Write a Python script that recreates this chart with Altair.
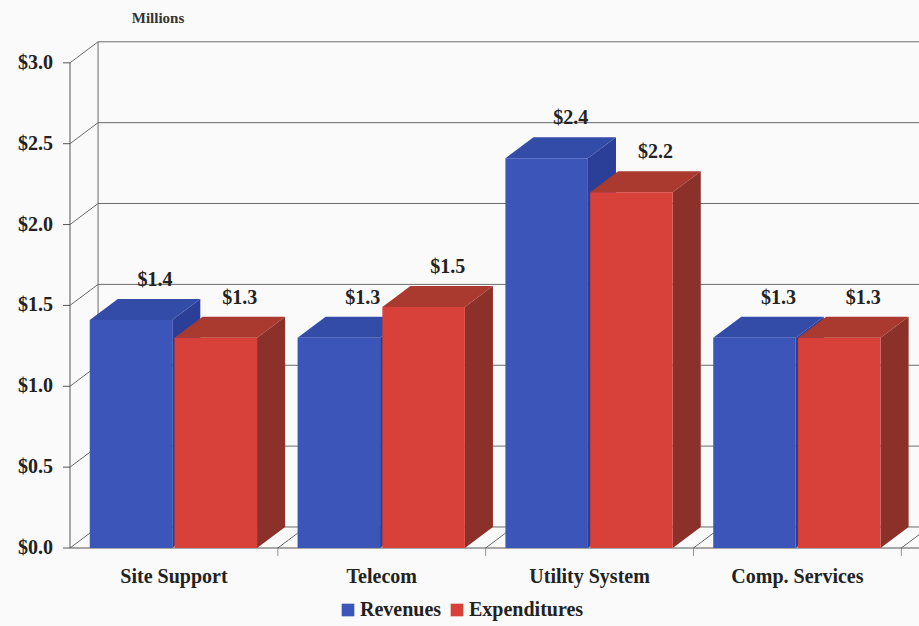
import altair as alt
import pandas as pd

categories = ["Site Support", "Telecom", "Utility System", "Comp. Services"]
revenues = [1.41, 1.30, 2.41, 1.30]
expenditures = [1.30, 1.49, 2.20, 1.30]
series_names = ["Revenues", "Expenditures"]
y_ticks = [0.0, 0.5, 1.0, 1.5, 2.0, 2.5, 3.0]

# ---- style / geometry constants ----
FRONT = ["#3b55b8", "#d8413a"]
TOP = ["#334ca8", "#aa3a30"]
SIDE = ["#2b3f98", "#8c302a"]
DX, DY = 0.135, 0.13          # depth offset in data units
BAR_LEFT = [0.095, 0.503]
BAR_W = 0.397
X_MAX = 4.085
Y_MAX = 3.135
FONT = "Liberation Serif"
LINE = "#6a6a6a"
FS = 20

front_rows, side_rows, top_rows = [], [], []
for i, cat in enumerate(categories):
    for s, vals in enumerate([revenues, expenditures]):
        v = vals[i]
        x0 = i + BAR_LEFT[s]
        x1 = x0 + BAR_W
        bid = f"{i}-{s}"
        name = series_names[s]
        front_rows.append(dict(bid=bid, series=name, x0=x0, x1=x1, v=v,
                               lab=f"${v:.1f}", cx=(x0 + x1) / 2))
        side_rows.append(dict(bid=bid, series=name, x=x1, lo=0.0, hi=v))
        side_rows.append(dict(bid=bid, series=name, x=x1 + DX, lo=DY, hi=v + DY))
        top_rows.append(dict(bid=bid, series=name, y=v, a=x0, b=x1))
        top_rows.append(dict(bid=bid, series=name, y=v + DY, a=x0 + DX, b=x1 + DX))

front_df = pd.DataFrame(front_rows)
side_df = pd.DataFrame(side_rows)
top_df = pd.DataFrame(top_rows)

grid_df = pd.DataFrame({"v": y_ticks})
grid_df["vb"] = grid_df["v"] + DY
grid_df["x0"] = 0.0
grid_df["xd"] = DX
grid_df["xm"] = X_MAX
grid_df["lab"] = [f"${v:.1f}" for v in y_ticks]

floor_df = pd.DataFrame({"k": list(range(1, len(categories) + 1))})
floor_df["kd"] = floor_df["k"] + DX
floor_df["y0"] = 0.0
floor_df["yd"] = DY

cat_df = pd.DataFrame({"cat": categories, "pos": [i + 0.5 for i in range(len(categories))]})

xs = alt.Scale(domain=[0, X_MAX], nice=False, zero=False)
ys = alt.Scale(domain=[0, Y_MAX], nice=False, zero=False)

# y axis: front line, tick marks and labels
front_axis = alt.Chart(pd.DataFrame({"x": [0.0], "y": [0.0], "y2": [3.0]})).mark_rule(color="#555555").encode(
    x=alt.X("x:Q", scale=xs, axis=None),
    y=alt.Y("y:Q", scale=ys, axis=None),
    y2="y2:Q",
)
y_tick_marks = alt.Chart(grid_df).mark_rule(color="#555555").encode(
    x=alt.value(-7), x2=alt.value(0),
    y=alt.Y("v:Q", scale=ys, axis=None),
)
y_tick_labels = alt.Chart(grid_df).mark_text(
    font=FONT, fontSize=FS, fontWeight="bold", color="#222222", align="right", baseline="middle"
).encode(
    x=alt.value(-17),
    y=alt.Y("v:Q", scale=ys, axis=None),
    text="lab:N",
)
# gridlines on back wall
back_grid = alt.Chart(grid_df).mark_rule(color=LINE, strokeWidth=1).encode(
    x=alt.X("xd:Q", scale=xs, axis=None), x2="xm:Q",
    y=alt.Y("vb:Q", scale=ys, axis=None),
)
diag_grid = alt.Chart(grid_df).mark_rule(color=LINE, strokeWidth=1).encode(
    x=alt.X("x0:Q", scale=xs, axis=None), x2="xd:Q",
    y=alt.Y("v:Q", scale=ys, axis=None), y2="vb:Q",
)
floor_diag = alt.Chart(floor_df).mark_rule(color=LINE, strokeWidth=1).encode(
    x=alt.X("k:Q", scale=xs, axis=None), x2="kd:Q",
    y=alt.Y("y0:Q", scale=ys, axis=None), y2="yd:Q",
)
floor_ticks = alt.Chart(floor_df).mark_tick(color=LINE, orient="vertical", size=8, thickness=1, yOffset=4).encode(
    x=alt.X("k:Q", scale=xs, axis=None),
    y=alt.Y("y0:Q", scale=ys, axis=None),
)
back_wall = alt.Chart(pd.DataFrame({"x": [DX], "y": [DY], "y2": [3.0 + DY]})).mark_rule(color=LINE).encode(
    x=alt.X("x:Q", scale=xs, axis=None),
    y=alt.Y("y:Q", scale=ys, axis=None), y2="y2:Q",
)
floor_front = alt.Chart(pd.DataFrame({"x": [0.0], "x2": [X_MAX], "y": [0.0]})).mark_rule(color="#555555").encode(
    x=alt.X("x:Q", scale=xs, axis=None), x2="x2:Q",
    y=alt.Y("y:Q", scale=ys, axis=None),
)

sides = alt.Chart(side_df).mark_area(orient="vertical", clip=True).encode(
    x=alt.X("x:Q", scale=xs, axis=None),
    y=alt.Y("lo:Q", scale=ys, axis=None), y2="hi:Q",
    detail="bid:N",
    color=alt.Color("series:N", scale=alt.Scale(domain=series_names, range=SIDE), legend=None),
)
tops = alt.Chart(top_df).mark_area(orient="horizontal", clip=True).encode(
    y=alt.Y("y:Q", scale=ys, axis=None),
    x=alt.X("a:Q", scale=xs, axis=None), x2="b:Q",
    detail="bid:N",
    color=alt.Color("series:N", scale=alt.Scale(domain=series_names, range=TOP), legend=None),
)
fronts = alt.Chart(front_df).mark_rect().encode(
    x=alt.X("x0:Q", scale=xs, axis=None), x2="x1:Q",
    y=alt.Y("v:Q", scale=ys, axis=None), y2=alt.datum(0),
    color=alt.Color("series:N", scale=alt.Scale(domain=series_names, range=FRONT),
                    legend=alt.Legend(title=None, orient="none", legendX=268, legendY=559,
                                      direction="horizontal", symbolType="square",
                                      symbolSize=160, symbolStrokeWidth=0,
                                      labelFont=FONT, labelFontSize=FS, labelFontWeight="bold",
                                      labelColor="#222222", columnPadding=5, labelOffset=2)),
)
value_labels = alt.Chart(front_df).mark_text(
    font=FONT, fontSize=FS, fontWeight="bold", color="#222222", dx=24, dy=-40, baseline="middle"
).encode(
    x=alt.X("cx:Q", scale=xs, axis=None),
    y=alt.Y("v:Q", scale=ys, axis=None),
    text="lab:N",
)
cat_labels = alt.Chart(cat_df).mark_text(
    font=FONT, fontSize=FS, fontWeight="bold", color="#222222", dy=29, baseline="middle"
).encode(
    x=alt.X("pos:Q", scale=xs, axis=None),
    y=alt.datum(0, scale=ys),
    text="cat:N",
)
millions = alt.Chart(pd.DataFrame({"t": ["Millions"]})).mark_text(
    font=FONT, fontSize=15, fontWeight="bold", color="#333333", baseline="middle"
).encode(text="t:N", x=alt.value(88), y=alt.value(-23))

chart = alt.layer(
    back_grid, diag_grid, floor_diag, floor_ticks, back_wall, floor_front,
    front_axis, y_tick_marks, y_tick_labels,
    sides, tops, fronts, value_labels, cat_labels, millions,
).resolve_scale(color="independent").properties(
    width=849, height=507,
    autosize=alt.AutoSizeParams(type="none"),
    padding={"left": 70, "top": 41, "right": 0, "bottom": 78},
    background="#fafafa",
).configure_view(stroke=None)

chart.save("out.html", embed_options={"renderer": "svg", "actions": False})
